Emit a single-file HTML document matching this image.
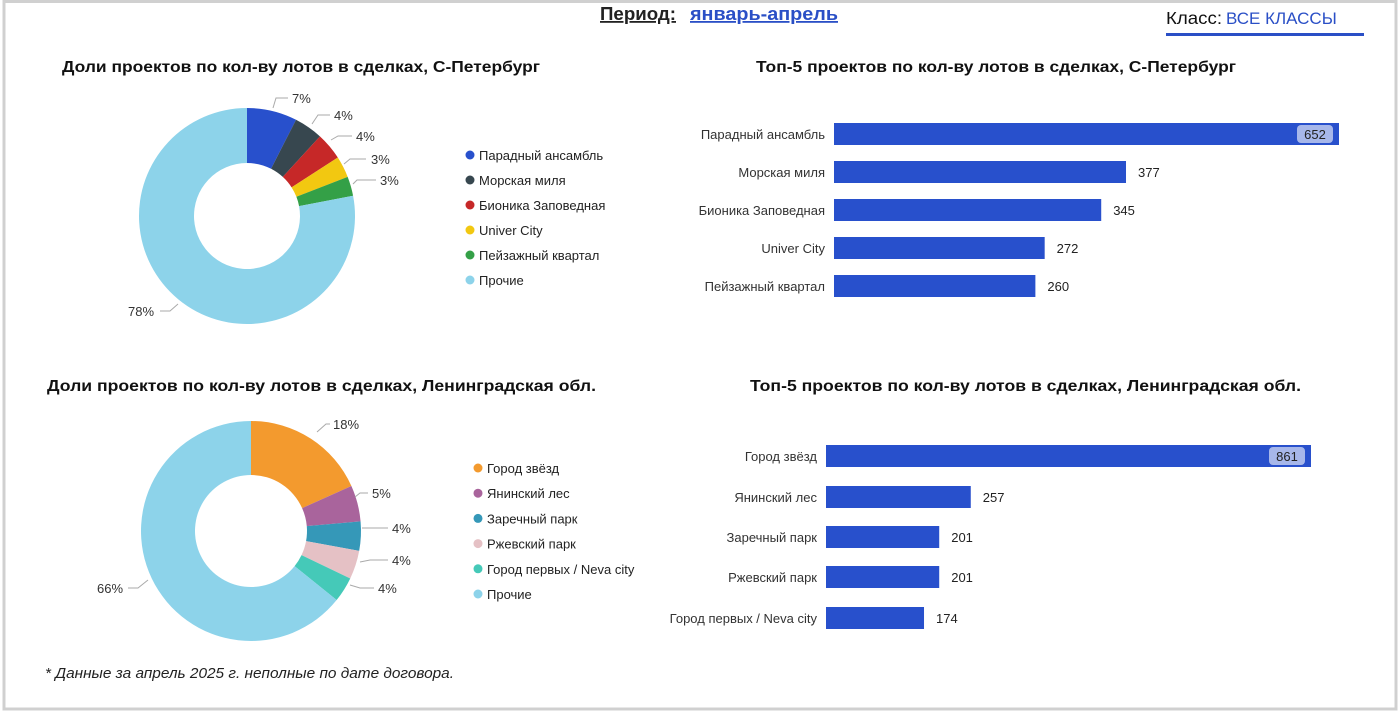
<!DOCTYPE html>
<html><head><meta charset="utf-8"><style>
body{margin:0;background:#fff;}
svg{display:block;font-family:"Liberation Sans",sans-serif;}
</style></head><body>
<svg id="s" width="1400" height="714" xmlns="http://www.w3.org/2000/svg">
<rect x="0" y="0" width="1400" height="714" fill="#fff"/>
<rect x="4" y="1.5" width="1392" height="707.5" fill="none" stroke="#d0d0d0" stroke-width="3"/>
<text x="600" y="20" font-size="18" font-weight="bold" fill="#222" text-decoration="underline" textLength="76" lengthAdjust="spacingAndGlyphs">Период:</text>
<text x="690" y="20" font-size="18" font-weight="bold" fill="#2a4fc6" text-decoration="underline" textLength="148" lengthAdjust="spacingAndGlyphs">январь-апрель</text>
<text x="1166" y="24" font-size="17.5" fill="#111" textLength="56" lengthAdjust="spacingAndGlyphs">Класс:</text>
<text x="1226" y="24" font-size="17" fill="#2a4fc6">ВСЕ КЛАССЫ</text>
<rect x="1166" y="33" width="198" height="3" fill="#2a4fc6"/>
<g font-size="16" font-weight="bold" fill="#111" lengthAdjust="spacingAndGlyphs">
<text x="62" y="72" textLength="478" lengthAdjust="spacingAndGlyphs">Доли проектов по кол-ву лотов в сделках, С-Петербург</text>
<text x="756" y="72" textLength="480" lengthAdjust="spacingAndGlyphs">Топ-5 проектов по кол-ву лотов в сделках, С-Петербург</text>
<text x="47" y="391" textLength="549" lengthAdjust="spacingAndGlyphs">Доли проектов по кол-ву лотов в сделках, Ленинградская обл.</text>
<text x="750" y="391" textLength="551" lengthAdjust="spacingAndGlyphs">Топ-5 проектов по кол-ву лотов в сделках, Ленинградская обл.</text>
</g>
<g id="d"></g>
<text x="45" y="678" font-size="15" font-style="italic" fill="#222" textLength="409" lengthAdjust="spacingAndGlyphs">* Данные за апрель 2025 г. неполные по дате договора.</text>
</svg>
<script>
var g=document.getElementById('d'),h='';
function donut(cx,cy,R,r,vals,cols){var a=0,t=vals.reduce((x,y)=>x+y,0);
vals.forEach(function(v,i){var a0=a/t*2*Math.PI,a1=(a+v)/t*2*Math.PI;a+=v;
var p=(ang,rad)=>[cx+rad*Math.sin(ang),cy-rad*Math.cos(ang)];
var A=p(a0,R),B=p(a1,R),C=p(a1,r),D=p(a0,r),L=(a1-a0)>Math.PI?1:0;
h+='<path d="M'+A+' A'+R+','+R+' 0 '+L+' 1 '+B+' L'+C+' A'+r+','+r+' 0 '+L+' 0 '+D+'Z" fill="'+cols[i]+'"/>';});}
donut(247,216,108,53,[7.5,4.3,4.1,3.2,2.9,78],['#2850cc','#37474f','#c62828','#f2c811','#34a047','#8dd3ea']);
donut(251,531,110,56,[18.3,5.3,4.3,4.2,3.7,64.2],['#f39a2e','#a9649c','#3598b8','#e5c1c5','#45c9b8','#8dd3ea']);
function lbl(pts,tx,ty,t){h+='<polyline points="'+pts+'" fill="none" stroke="#aaa" stroke-width="1"/><text x="'+tx+'" y="'+ty+'" font-size="13" fill="#333">'+t+'</text>';}
lbl('273,108 276,98 288,98',292,103,'7%');lbl('312,124 318,115 330,115',334,120,'4%');
lbl('331,140 338,136 352,136',356,141,'4%');lbl('344,164 350,159 366,159',371,164,'3%');
lbl('353,184 357,180 376,180',380,185,'3%');lbl('178,304 170,311 160,311',128,316,'78%');
lbl('317,432 326,424 330,424',333,429,'18%');lbl('355,497 360,493 368,493',372,498,'5%');
lbl('362,528 388,528',392,533,'4%');lbl('360,562 370,560 388,560',392,565,'4%');
lbl('350,585 360,588 374,588',378,593,'4%');lbl('148,580 138,588 128,588',97,593,'66%');
function leg(x,y0,dy,names,cols){names.forEach(function(n,i){var y=y0+i*dy;h+='<circle cx="'+x+'" cy="'+y+'" r="4.5" fill="'+cols[i]+'"/><text x="'+(x+9)+'" y="'+(y+5)+'" font-size="13" fill="#222">'+n+'</text>';});}
leg(470,155,25,['Парадный ансамбль','Морская миля','Бионика Заповедная','Univer City','Пейзажный квартал','Прочие'],['#2850cc','#37474f','#c62828','#f2c811','#34a047','#8dd3ea']);
leg(478,468,25.2,['Город звёзд','Янинский лес','Заречный парк','Ржевский парк','Город первых / Neva city','Прочие'],['#f39a2e','#a9649c','#3598b8','#e5c1c5','#45c9b8','#8dd3ea']);
function bars(x0,sc,ys,names,vals){vals.forEach(function(v,i){var w=v*sc,y=ys[i];
h+='<rect x="'+x0+'" y="'+(y-11)+'" width="'+w+'" height="22" fill="#2850cc"/>';
h+='<text x="'+(x0-9)+'" y="'+(y+5)+'" font-size="13" fill="#333" text-anchor="end">'+names[i]+'</text>';
if(i==0){h+='<rect x="'+(x0+w-42)+'" y="'+(y-9)+'" width="36" height="18" rx="4" fill="#a7b7ea"/><text x="'+(x0+w-24)+'" y="'+(y+5)+'" font-size="13" fill="#222" text-anchor="middle">'+v+'</text>';}
else h+='<text x="'+(x0+w+12)+'" y="'+(y+5)+'" font-size="13" fill="#222">'+v+'</text>';});}
bars(834,505/652,[134,172,210,248,286],['Парадный ансамбль','Морская миля','Бионика Заповедная','Univer City','Пейзажный квартал'],[652,377,345,272,260]);
bars(826,485/861,[456,497,537,577,618],['Город звёзд','Янинский лес','Заречный парк','Ржевский парк','Город первых / Neva city'],[861,257,201,201,174]);
g.innerHTML=h;
</script>
</body></html>
